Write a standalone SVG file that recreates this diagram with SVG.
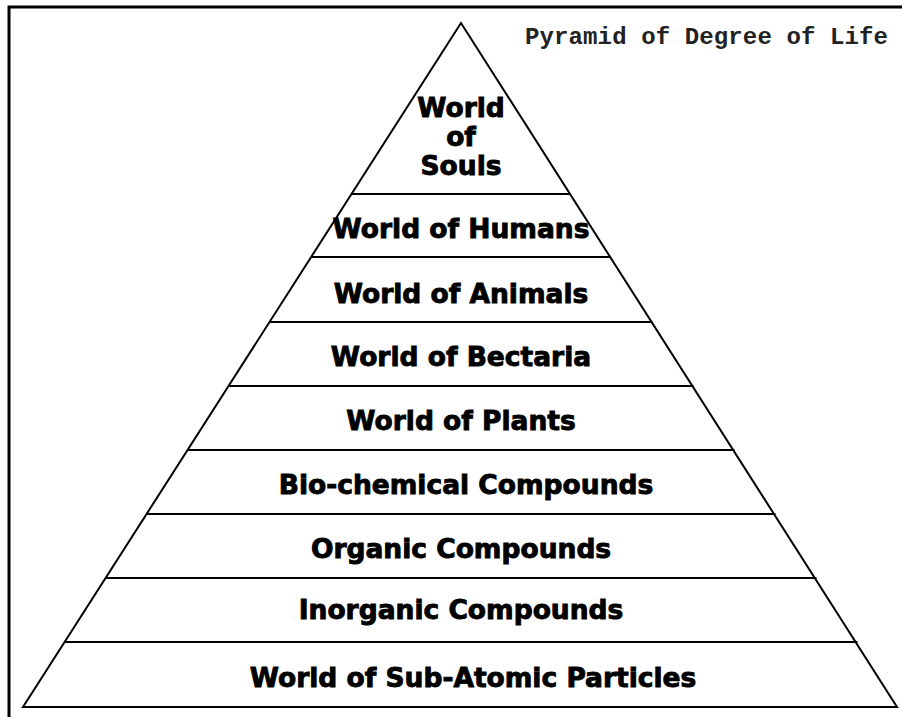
<svg xmlns="http://www.w3.org/2000/svg" width="902" height="717" viewBox="0 0 902 717">
<style>
.t{font-family:"DejaVu Sans","Liberation Sans",sans-serif;font-weight:bold;font-size:26.5px;text-anchor:middle;fill:#000;stroke:#000;stroke-width:0.9}
.ln{stroke:#000;stroke-width:2;fill:none}
</style>
<rect width="902" height="717" fill="#fff"/>
<path d="M9,717 V7 H902" stroke="#000" stroke-width="3" fill="none"/>
<text x="525" y="44" font-family="Liberation Mono, monospace" font-weight="bold" font-size="24" fill="#222" textLength="363">Pyramid of Degree of Life</text>
<g id="connectors">
<polygon class="ln" points="461,23 23,707 897,707" stroke-width="1.5"/>
<line class="ln" x1="351.5" y1="194" x2="570.5" y2="194"/>
<line class="ln" x1="311" y1="257" x2="611" y2="257"/>
<line class="ln" x1="269.5" y1="322" x2="652.5" y2="322"/>
<line class="ln" x1="228.5" y1="386" x2="693.5" y2="386"/>
<line class="ln" x1="187.5" y1="450" x2="734.5" y2="450"/>
<line class="ln" x1="146.5" y1="514" x2="775.5" y2="514"/>
<line class="ln" x1="105.5" y1="578" x2="816.5" y2="578"/>
<line class="ln" x1="64.5" y1="642" x2="857.5" y2="642"/>
</g>
<g id="souls"><text class="t" x="461" y="117">World</text><text class="t" x="461" y="146">of</text><text class="t" x="461" y="175">Souls</text></g>
<g id="humans"><text class="t" x="461" y="238">World of Humans</text></g>
<g id="animals"><text class="t" x="461" y="303">World of Animals</text></g>
<g id="bectaria"><text class="t" x="461" y="366">World of Bectaria</text></g>
<g id="plants"><text class="t" x="461" y="430">World of Plants</text></g>
<g id="biochem"><text class="t" x="466" y="494">Bio-chemical Compounds</text></g>
<g id="organic"><text class="t" x="461" y="558">Organic Compounds</text></g>
<g id="inorganic"><text class="t" x="461" y="619">Inorganic Compounds</text></g>
<g id="subatomic"><text class="t" x="473" y="687">World of Sub-Atomic Particles</text></g>
</svg>
